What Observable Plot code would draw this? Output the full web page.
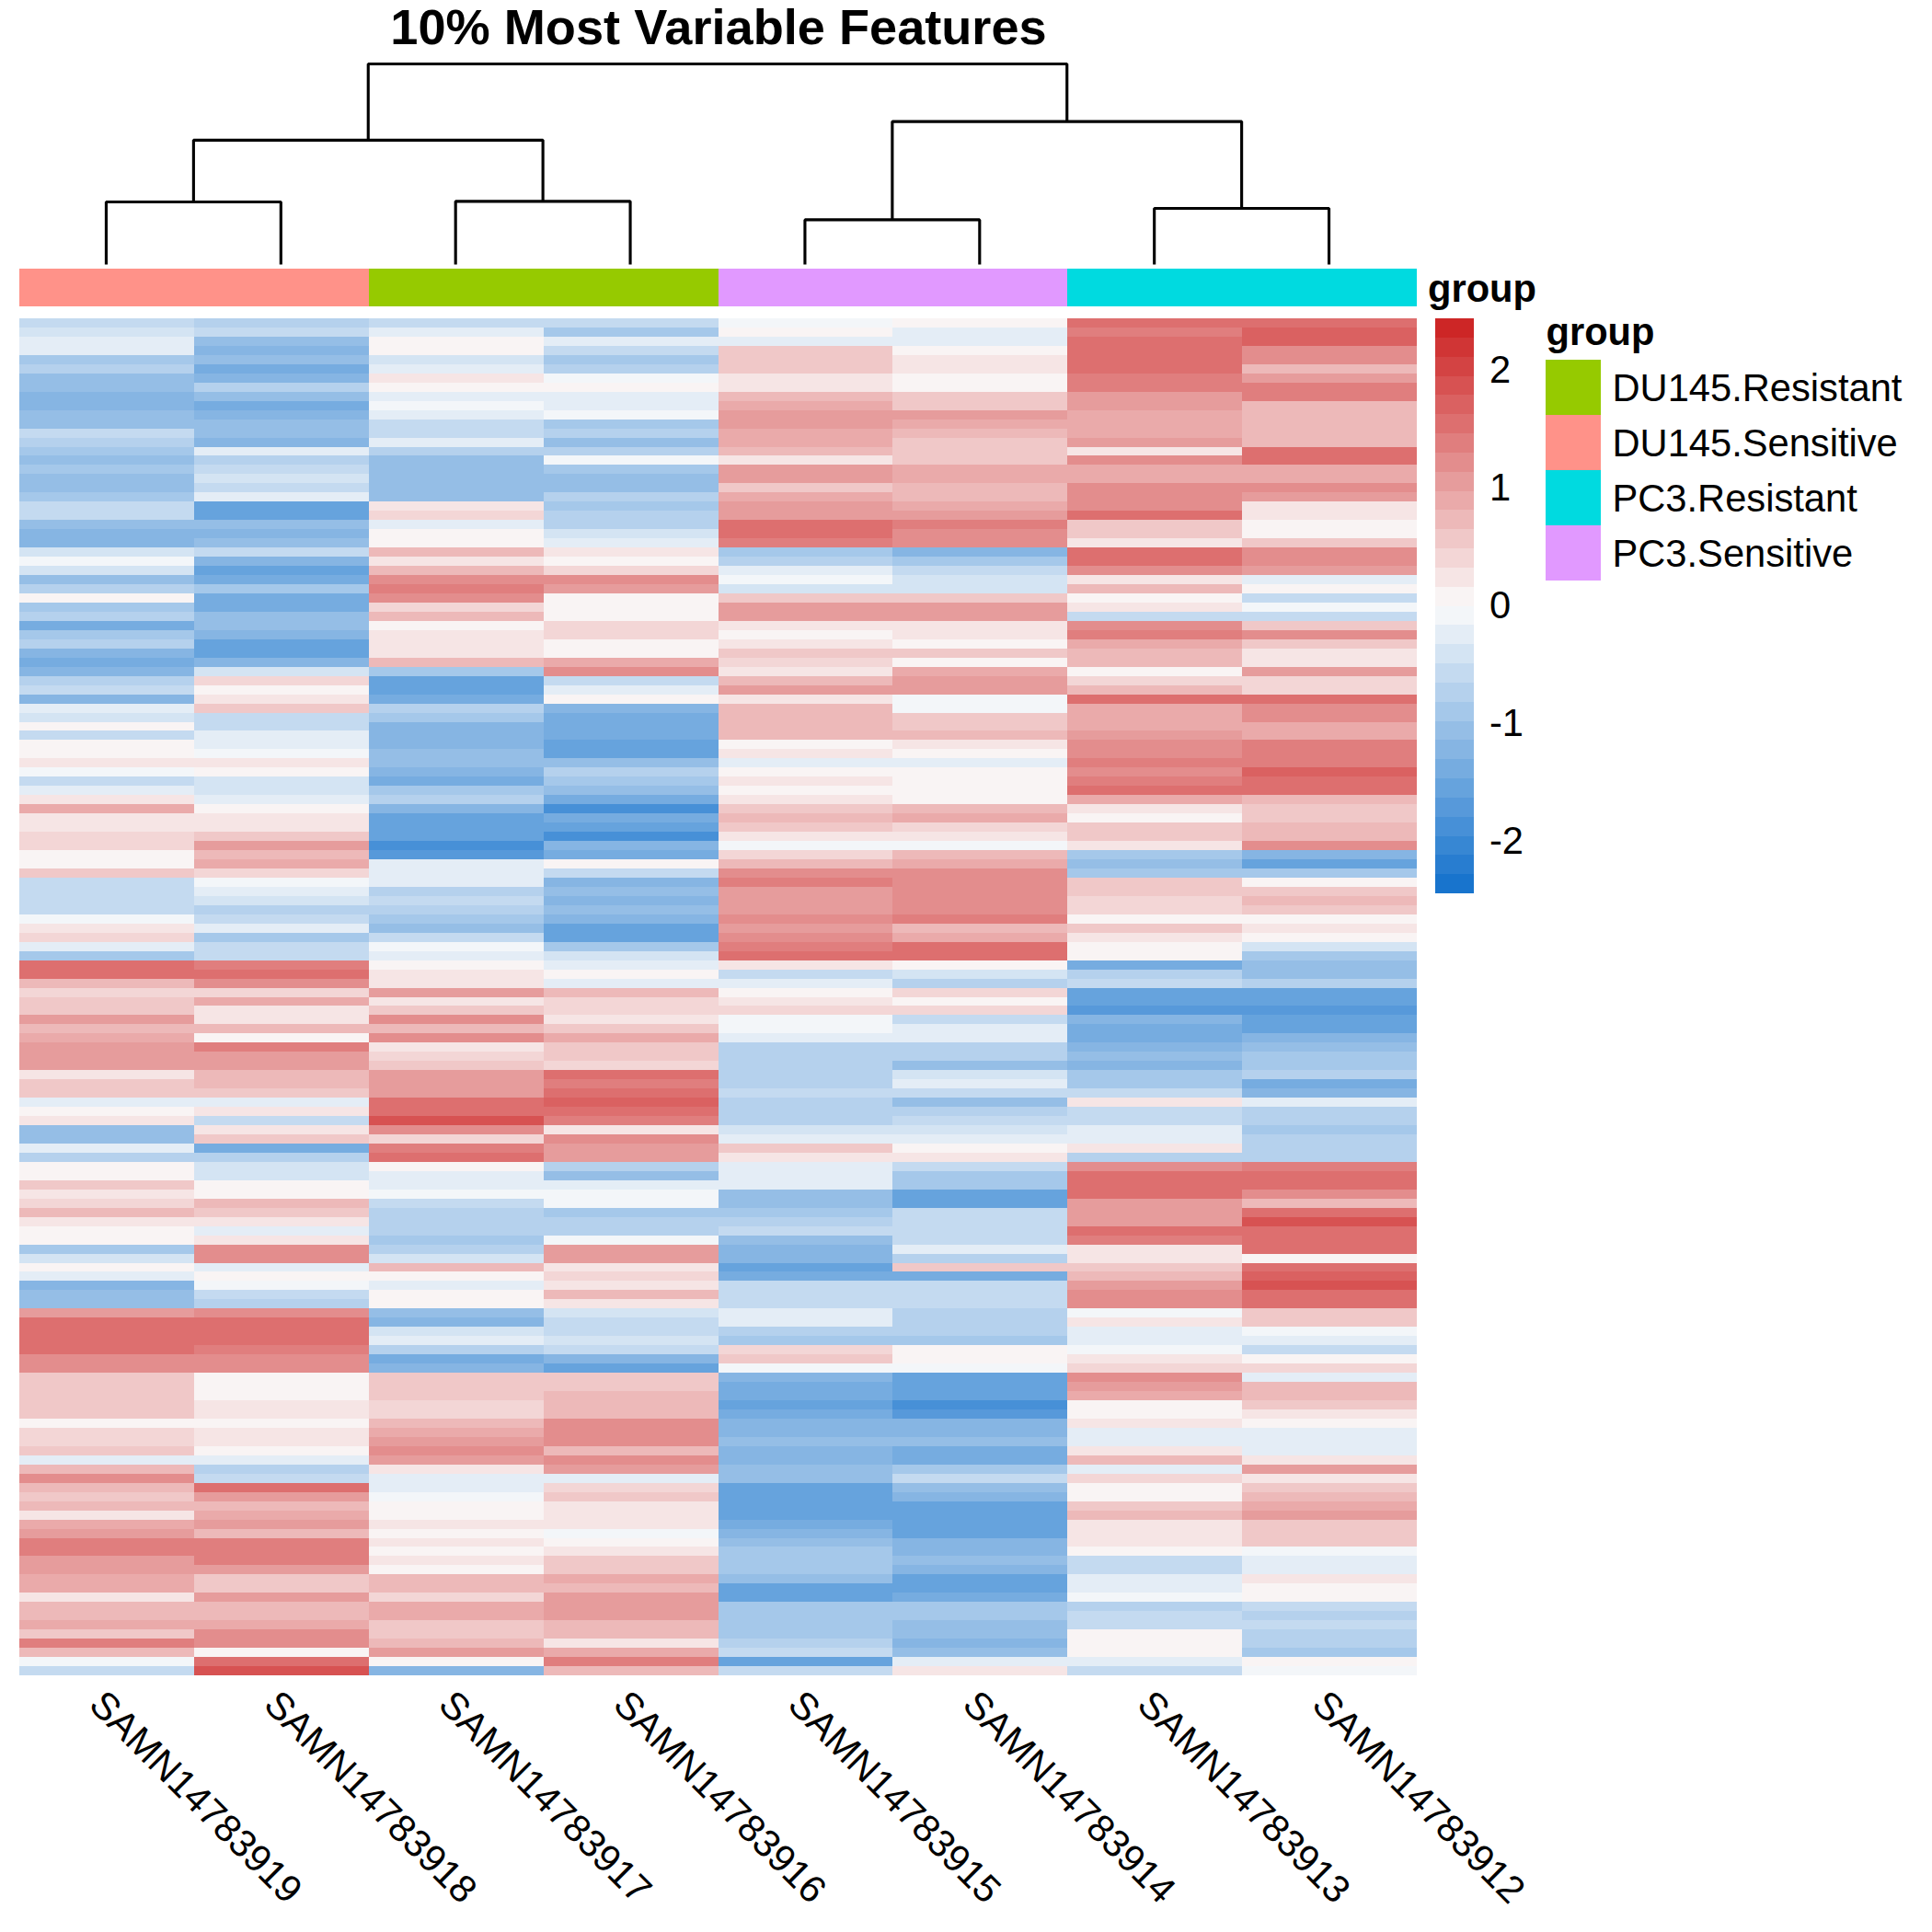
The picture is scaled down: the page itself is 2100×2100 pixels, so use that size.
<!DOCTYPE html>
<html>
<head>
<meta charset="utf-8">
<style>
  html,body{margin:0;padding:0;background:#fff;}
  #chart{position:relative;width:2100px;height:2100px;background:#fff;font-family:"Liberation Sans",Arial,sans-serif;color:#000;overflow:hidden;}
  #chart svg{position:absolute;font-family:"Liberation Sans",Arial,sans-serif;background:transparent;}
  #chart .lbl{position:absolute;line-height:1;white-space:nowrap;}
</style>
<script src="https://cdn.jsdelivr.net/npm/d3@7"></script>
<script src="https://cdn.jsdelivr.net/npm/@observablehq/plot@0.6"></script>
</head>
<body>
<div id="chart"></div>
<script>
const titleText = "10% Most Variable Features";
const samples = ["SAMN14783919","SAMN14783918","SAMN14783917","SAMN14783916","SAMN14783915","SAMN14783914","SAMN14783913","SAMN14783912"];
const sampleGroup = ["DU145.Sensitive","DU145.Sensitive","DU145.Resistant","DU145.Resistant","PC3.Sensitive","PC3.Sensitive","PC3.Resistant","PC3.Resistant"];
const groups = ["DU145.Resistant","DU145.Sensitive","PC3.Resistant","PC3.Sensitive"];
const groupColors = ["#96CA00","#FF9289","#00DAE0","#E199FF"];

// z-scores in tenths, one band of rows per entry, top to bottom
const z919 = [-6,-4,-3,-3,-9,-8,-11,-11,-13,-13,-10,-10,-6,-8,-9,-11,-9,-10,-10,-9,-5,-6,-10,-13,-12,-4,-1,-4,-10,-7,
 0,-9,-7,-14,-9,-8,-12,-14,-13,-8,-5,-13,-3,-4,0,-5,1,0,3,-1,-5,-3,3,9,2,2,4,4,1,1,
 6,-6,-5,-5,-6,-1,3,4,-2,-9,16,15,8,4,6,6,11,8,9,11,11,11,3,5,5,-2,0,3,-10,-10,
 -2,-8,0,1,5,3,4,8,2,1,1,-9,-4,1,-2,-12,-10,-11,10,15,16,16,15,12,13,6,5,6,5,5,
 0,4,4,5,-2,8,12,7,5,7,3,9,10,14,14,11,10,9,9,3,7,8,9,6,14,8,-1,-6];
const z918 = [-7,-6,-10,-12,-10,-14,-13,-8,-11,-14,-12,-11,-11,-12,-3,-7,-6,-4,-6,-3,-16,-15,-11,-13,-10,-5,-13,-15,-14,-9,
 -14,-14,-10,-11,-13,-16,-15,-13,-4,4,0,2,5,-5,-5,-2,-2,-1,2,0,-4,-4,-3,1,2,3,5,11,7,9,
 4,-1,-3,-4,-8,-5,-2,-9,-6,-6,14,16,13,4,9,2,2,7,1,14,11,11,8,7,6,-3,2,-6,3,5,
 -14,-8,-4,-4,1,1,8,6,3,-2,3,12,12,-2,1,-1,-6,-7,13,16,15,15,14,13,12,1,0,0,3,3,
 1,2,3,1,-3,-8,-5,16,11,7,9,11,7,14,14,14,11,6,6,10,8,7,9,13,13,1,15,18];
const z917 = [-6,-3,1,1,-4,-3,2,1,-2,-1,-2,-5,-6,-2,-8,-10,-11,-10,-10,-11,3,4,-3,0,1,7,3,8,13,14,
 12,4,8,1,2,3,3,7,-9,-15,-15,-14,-8,-9,-13,-13,-12,-10,-10,-13,-14,-9,-7,-13,-15,-15,-15,-18,-17,-3,
 -3,-3,-7,-5,-8,-9,-10,-5,-1,-3,0,3,2,10,3,5,12,7,12,2,4,5,10,10,11,15,15,19,12,4,
 14,15,0,-3,-2,-1,-6,-7,-7,-8,-9,-8,-4,7,0,-2,1,1,-10,-13,-4,-2,-7,-14,-13,5,5,6,4,4,
 8,9,11,13,10,3,-2,-2,-1,0,0,3,1,2,1,3,0,8,7,4,9,9,6,5,7,11,0,-12];
const z916 = [-5,-9,-3,-6,-9,-8,-1,0,-3,-2,-1,-9,-8,-11,-7,-1,-9,-10,-11,-8,-9,-7,-7,-4,-3,3,1,4,12,11,
 0,0,1,4,4,0,1,9,12,-5,-3,1,-13,-14,-14,-14,-15,-15,-11,-8,-9,-11,-14,-18,-14,-15,-18,-12,-14,0,
 -6,-12,-11,-13,-10,-13,-15,-15,-9,-4,-3,0,-2,8,4,4,2,5,9,6,6,4,15,14,15,17,16,14,3,12,
 10,10,-8,-10,-2,-1,-1,-9,-8,-7,-1,10,11,3,4,3,8,2,-4,-5,-5,-4,-6,-12,-15,5,6,8,7,7,
 13,12,12,7,12,10,-2,4,6,3,3,2,-1,0,2,6,6,9,8,11,11,10,8,8,3,9,14,7];
const z915 = [-1,1,-3,5,5,5,3,3,8,9,11,10,9,9,7,2,10,10,6,9,10,11,15,15,14,-9,-7,-3,-1,-4,
 6,10,11,2,0,3,5,4,2,8,11,2,7,7,7,7,1,2,-2,1,3,1,3,6,8,5,2,-1,4,7,
 12,14,11,11,10,12,11,12,14,15,3,-6,-3,1,3,4,-1,-1,-3,-7,-7,-8,-8,-7,-5,-8,-7,-8,-4,-3,
 5,3,-3,-2,-2,-11,-11,-9,-7,-6,-11,-13,-12,-15,-14,-5,-5,-5,-3,-3,-8,-9,4,5,-1,-12,-14,-14,-15,-14,
 -13,-12,-11,-12,-13,-10,-11,-15,-15,-16,-16,-14,-12,-11,-9,-9,-9,-10,-15,-15,-9,-9,-9,-9,-8,-6,-15,-6];
const z914 = [0,-3,-3,1,3,3,0,1,6,6,10,9,8,6,6,6,9,9,7,7,9,10,14,13,13,-13,-9,-6,-4,-4,
 5,10,11,3,2,0,6,0,9,11,11,-1,-1,6,6,7,3,0,-2,0,0,1,1,8,9,4,3,-1,8,9,
 13,13,12,12,12,14,8,9,15,15,0,-4,-8,4,0,4,-5,-2,-3,-7,-8,-10,-4,-3,-6,-10,-8,-6,-4,-3,
 0,3,-6,-9,-9,-16,-15,-6,-6,-6,-5,-3,-7,5,-14,-5,-6,-6,-7,-7,-8,-9,0,1,-1,-15,-16,-16,-18,-17,
 -13,-12,-11,-14,-14,-9,-6,-11,-12,-16,-15,-16,-16,-13,-12,-10,-12,-15,-15,-14,-9,-9,-10,-10,-13,-10,-3,3];
const z913 = [15,14,15,16,15,16,14,14,11,10,9,9,9,10,3,13,9,9,12,12,12,15,5,5,3,15,15,13,3,8,
 1,3,-5,12,14,9,7,7,0,4,8,16,9,9,9,10,13,13,14,12,14,15,9,2,0,5,5,3,-9,-10,
 -9,5,6,4,4,0,6,2,1,1,-14,-8,-6,-15,-15,-17,-13,-14,-14,-12,-11,-12,-9,-9,-6,2,-6,-6,-3,-2,
 2,-7,13,15,16,15,11,10,10,15,14,3,3,5,8,11,12,13,-1,3,-3,-3,-1,2,4,13,10,9,1,1,
 2,-3,-2,3,7,-3,4,1,0,5,7,2,3,2,1,-5,-6,-2,-2,-1,-8,-6,-6,1,1,0,-3,-5];
const z912 = [16,17,17,12,12,8,11,14,14,8,8,8,8,8,16,16,9,9,12,11,3,3,1,1,6,13,13,10,-3,0,
 -6,-1,-6,6,12,5,3,3,10,4,4,15,13,12,9,9,14,14,14,17,16,15,8,6,6,8,8,13,-13,-15,
 -9,1,5,7,6,0,3,1,-4,-9,-11,-10,-8,-15,-16,-17,-15,-15,-12,-10,-9,-9,-7,-14,-13,-3,-7,-7,-9,-8,
 -8,-8,14,15,16,13,8,15,18,15,15,16,1,16,17,19,16,16,6,5,-1,-2,-5,0,4,-3,7,7,6,3,
 0,-2,-3,-3,3,10,3,6,8,9,11,5,5,5,-1,-3,-2,2,1,0,-5,-7,-5,-8,-8,-9,0,-1];
const columns = [z919,z918,z917,z916,z915,z914,z913,z912];

// dendrogram: left and right child position, left and right child height, merge height
const dendroLeftX   = [0.5, 2.5, 4.5, 6.5, 1, 5, 2];
const dendroRightX  = [1.5, 3.5, 5.5, 7.5, 3, 7, 6];
const dendroLeftH   = [0, 0, 0, 0, 31.2, 22.3, 62];
const dendroRightH  = [0, 0, 0, 0, 31.5, 28, 71.3];
const dendroHeight  = [31.2, 31.5, 22.3, 28, 62, 71.3, 100];

const zLimit = 2.44;
const binCount = 30;
const colorLow = "#1874CD", colorMid = "#FBFBFB", colorHigh = "#CD2626";
const scaleTicks = [-2,-1,0,1,2];

const fontPx = 41.67, titlePx = 54.17;

const edges = d3.range(binCount + 1).map(i => -zLimit + 2 * zLimit * i / binCount);
const ramp = d3.piecewise(d3.interpolateRgb, [colorLow, colorMid, colorHigh]);
const binColors = d3.range(binCount).map(i => ramp(i / (binCount - 1)));
const zColor = {type: "threshold", domain: edges.slice(1, -1), range: binColors};

const rows = columns.flatMap((col, c) => col.map((v, r) => ({sample: samples[c], row: r, z: v / 10})));
const rowOrder = d3.range(z919.length);

const chart = document.getElementById("chart");
function place(svg, left, top) {
  svg.style.left = left + "px";
  svg.style.top = top + "px";
  svg.style.maxWidth = "none";
  chart.appendChild(svg);
}
function label(text, x, baseline, size, bold, anchorMiddle) {
  const d = document.createElement("div");
  d.className = "lbl";
  d.textContent = text;
  d.style.fontSize = size + "px";
  d.style.fontWeight = bold ? "bold" : "normal";
  d.style.left = x + "px";
  d.style.top = (baseline - 0.8465 * size) + "px";
  if (anchorMiddle) d.style.transform = "translateX(-50%)";
  chart.appendChild(d);
}

// heatmap
place(Plot.plot({
  width: 1519, height: 1475, margin: 0,
  x: {type: "band", domain: samples, padding: 0, round: false, axis: null},
  y: {type: "band", domain: rowOrder, padding: 0, round: false, axis: null},
  color: zColor,
  marks: [Plot.cell(rows, {x: "sample", y: "row", fill: "z", shapeRendering: "crispEdges"})]
}), 21, 346);

// annotation bar
const annot = samples.map((s, i) => ({sample: s, group: sampleGroup[i]}));
place(Plot.plot({
  width: 1519, height: 41, margin: 0,
  x: {type: "band", domain: samples, padding: 0, round: false, axis: null},
  y: {axis: null},
  color: {type: "ordinal", domain: groups, range: groupColors},
  marks: [Plot.cell(annot, {x: "sample", fill: "group", shapeRendering: "crispEdges"})]
}), 21, 292);

// dendrogram
const dendroPaths = dendroHeight.flatMap((h, i) => [
  {id: i, x: dendroLeftX[i], h: dendroLeftH[i]},
  {id: i, x: dendroLeftX[i], h},
  {id: i, x: dendroRightX[i], h},
  {id: i, x: dendroRightX[i], h: dendroRightH[i]}
]);
place(Plot.plot({
  width: 1519, height: 235, margin: 0,
  x: {domain: [0, samples.length], range: [0, 1519], axis: null},
  y: {domain: [0, 100], range: [227, 9], axis: null},
  marks: [Plot.line(dendroPaths, {x: "x", y: "h", z: "id", stroke: "#000", strokeWidth: 3.125, strokeLinejoin: "miter", strokeLinecap: "butt", curve: "linear"})]
}), 21 - 0.8, 60);

// sample labels
place(Plot.plot({
  width: 2100, height: 279, marginLeft: 21, marginRight: 560, marginTop: 0, marginBottom: 0,
  x: {type: "band", domain: samples, padding: 0, round: false, axis: null},
  y: {axis: null},
  marks: [Plot.text(samples, {x: d => d, frameAnchor: "top", dx: -12, dy: 24, text: d => d, rotate: 45, textAnchor: "start", lineAnchor: "middle", fontSize: fontPx, fill: "#000"})]
}), 0, 1821);

// colour key
const keyBins = d3.range(binCount).map(i => ({lo: edges[i], hi: edges[i + 1], mid: (edges[i] + edges[i + 1]) / 2}));
place(Plot.plot({
  width: 160, height: 625, marginLeft: 0, marginRight: 118, marginTop: 0, marginBottom: 0,
  x: {domain: [0, 1], axis: null},
  y: {domain: [-zLimit, zLimit]},
  color: zColor,
  marks: [
    Plot.rect(keyBins, {x1: () => 0, x2: () => 1, y1: "lo", y2: "hi", fill: "mid", shapeRendering: "crispEdges"}),
    Plot.axisY(scaleTicks, {anchor: "right", tickSize: 0, tickPadding: 16.5, fontSize: fontPx, tickFormat: d => String(d), label: null, fill: "#000"})
  ]
}), 1560, 346);

// group legend
place(Plot.plot({
  width: 420, height: 240, margin: 0,
  x: {type: "band", domain: ["swatch"], range: [0, 60], padding: 0, axis: null},
  y: {type: "band", domain: groups, padding: 0, axis: null},
  color: {type: "ordinal", domain: groups, range: groupColors},
  marks: [
    Plot.cell(groups, {x: () => "swatch", y: d => d, fill: d => d, shapeRendering: "crispEdges"}),
    Plot.text(groups, {y: d => d, frameAnchor: "left", dx: 72, dy: 1.5, text: d => d, textAnchor: "start", lineAnchor: "middle", fontSize: fontPx, fill: "#000"})
  ]
}), 1680, 391);

label(titleText, 781, 48, titlePx, true, true);
label("group", 1552, 328, fontPx, true, false);
label("group", 1680.5, 375.5, fontPx, true, false);
</script>
</body>
</html>
